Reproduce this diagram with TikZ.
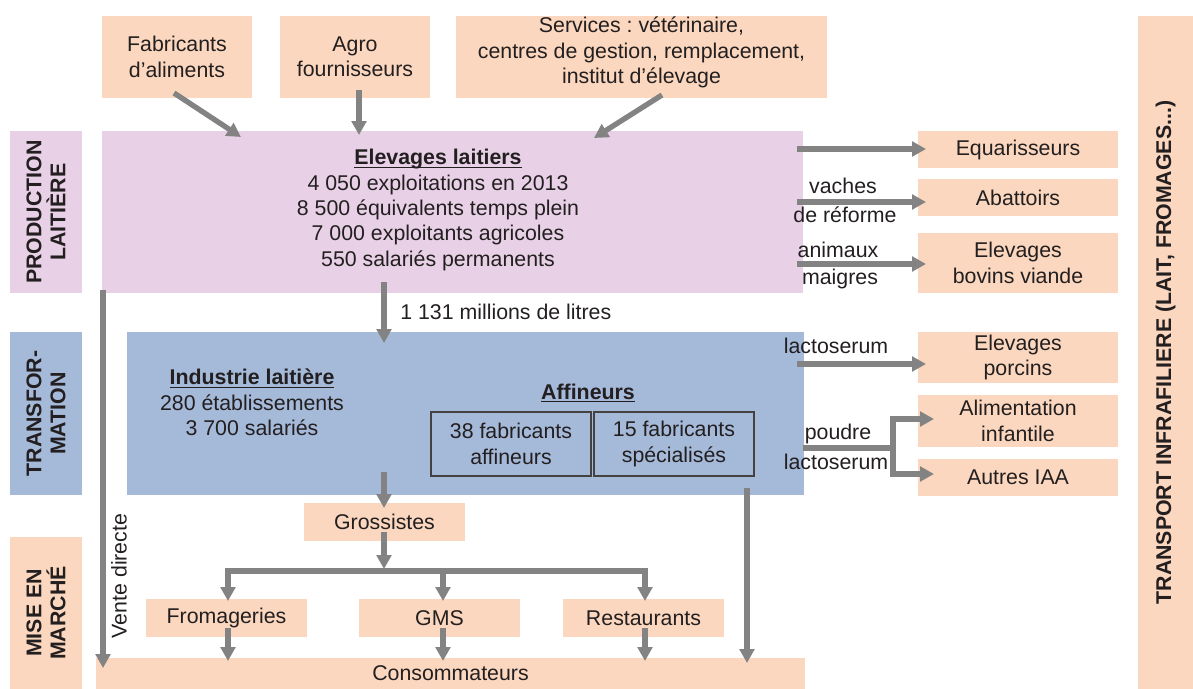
\documentclass[tikz,border=0pt]{standalone}
\usepackage{fontspec}
\setmainfont{Liberation Sans}
\usetikzlibrary{arrows.meta,calc}
\definecolor{peach}{HTML}{FAD7BE}
\definecolor{lav}{HTML}{E8D1E6}
\definecolor{bluebox}{HTML}{A5B9D9}
\definecolor{arrgray}{HTML}{838383}
\definecolor{txt}{HTML}{231F20}
\newcommand\myul[1]{\setbox0\hbox{#1}\rlap{\rule[-2.4pt]{\wd0}{0.9pt}}\box0}
\frenchspacing
\begin{document}
\begin{tikzpicture}[x=0.75pt,y=-0.75pt,
  font=\fontsize{16}{19}\selectfont, text=txt,
  box/.style={fill=peach, inner sep=0pt, align=center},
  lbl/.style={inner sep=0pt, align=center},
  side/.style={inner sep=0pt, align=center, rotate=90, font=\fontsize{16}{18}\selectfont\bfseries},
  inbox/.style={draw=txt!85, line width=0.9pt, inner sep=0pt, align=center},
  arr/.style={draw=arrgray, line width=4pt, -{Triangle[length=10.5pt,width=11pt]}},
  plain/.style={draw=arrgray, line width=4pt}]
\useasboundingbox (0,0) rectangle (1193,689);

% side labels
\node[side, fill=lav, minimum width=121.5pt, minimum height=54pt] (lprod) at (46,212) {PRODUCTION\\LAITIÈRE};
\node[side, fill=bluebox, minimum width=122.25pt, minimum height=54pt] (ltrans) at (46,413.5) {TRANSFOR-\\MATION};
\node[side, fill=peach, minimum width=114pt, minimum height=54pt] (lmise) at (46,613) {MISE EN\\MARCHÉ};
\node[side, fill=peach, minimum width=504.75pt, minimum height=41.25pt] (transp) at (1165.5,352.5) {TRANSPORT INFRAFILIERE (LAIT, FROMAGES...)};

% top boxes
\node[box, minimum width=112.5pt, minimum height=61.5pt] (fab) at (177,57) {Fabricants\\d’aliments};
\node[box, minimum width=112.5pt, minimum height=61.5pt] (agro) at (355,57) {Agro\\fournisseurs};
\node[box, minimum width=278.25pt, minimum height=61.5pt] (serv) at (641.5,57) {};
\node[lbl] (servtxt) at (641.5,52.5) {Services : vétérinaire,\\centres de gestion, remplacement,\\institut d’élevage};

% production
\node[box, fill=lav, minimum width=525.75pt, minimum height=121.5pt] (prod) at (452.5,212) {};
\node[lbl] (prodtxt) at (438,210) {\myul{\textbf{Elevages laitiers}}\\4 050 exploitations en 2013\\8 500 équivalents temps plein\\7 000 exploitants agricoles\\550 salariés permanents};

% right boxes
\node[box, minimum width=150pt, minimum height=27.75pt] (equa) at (1018,149.5) {Equarisseurs};
\node[box, minimum width=150pt, minimum height=27.75pt] (abat) at (1018,197.5) {Abattoirs};
\node[box, minimum width=150pt, minimum height=45pt] (bov) at (1018,263) {Elevages\\bovins viande};
\node[box, minimum width=150pt, minimum height=38.25pt] (porc) at (1018,357.5) {Elevages\\porcins};
\node[box, minimum width=150pt, minimum height=39pt] (alim) at (1018,421) {Alimentation\\infantile};
\node[box, minimum width=150pt, minimum height=27.75pt] (iaa) at (1018,477.5) {Autres IAA};

% transformation
\node[box, fill=bluebox, minimum width=507.75pt, minimum height=122.25pt] (trans) at (465.5,413.5) {};
\node[lbl] (indtxt) at (252,402.5) {\myul{\textbf{Industrie laitière}}\\280 établissements\\3 700 salariés};
\node[lbl] (afftxt) at (588,393) {\myul{\textbf{Affineurs}}};
\node[inbox, minimum width=120pt, minimum height=48pt] (aff38) at (511,444) {38 fabricants\\affineurs};
\node[inbox, minimum width=120pt, minimum height=48pt] (aff15) at (674,444) {15 fabricants\\spécialisés};

% market
\node[box, minimum width=120.75pt, minimum height=28.5pt] (gros) at (384.5,522) {Grossistes};
\node[box, minimum width=120.75pt, minimum height=28.5pt] (from) at (226.5,618) {Fromageries};
\node[box, minimum width=120.75pt, minimum height=28.5pt] (gms) at (439.5,618) {GMS};
\node[box, minimum width=120.75pt, minimum height=28.5pt] (rest) at (643.5,618) {Restaurants};
\node[box, minimum width=531.75pt, minimum height=23.25pt] (cons) at (450.5,673.5) {Consommateurs};

% labels
\node[lbl] (l1) at (843,186) {vaches};
\node[lbl] (l2) at (845,215) {de réforme};
\node[lbl] (l3) at (838,250) {animaux};
\node[lbl] (l4) at (840,279) {maigres};
\node[lbl] (l5) at (836,346) {lactoserum};
\node[lbl] (l6) at (838,434) {poudre};
\node[lbl] (l7) at (836,462) {lactoserum};
\node[lbl, anchor=west] (l8) at (400,312) {1 131 millions de litres};
\node[lbl, rotate=90] (l9) at (119,576) {Vente directe};

% coordinates
\coordinate (fabS) at (174,93);   \coordinate (fabE) at (241,137);
\coordinate (agroS) at (359,90);  \coordinate (agroE) at (359,135);
\coordinate (servS) at (662,95);  \coordinate (servE) at (594,138);
\coordinate (pE1) at (797,149);   \coordinate (tE1) at (926,149);
\coordinate (pE2) at (797,202);   \coordinate (tE2) at (926,202);
\coordinate (pE3) at (797,264);   \coordinate (tE3) at (926,264);
\coordinate (pE4) at (797,364);   \coordinate (tE4) at (926,364);
\coordinate (pdS) at (803,448);   \coordinate (pdJ) at (893,448);
\coordinate (tAlim) at (934,419); \coordinate (tIaa) at (934,474);
\coordinate (vdS) at (103,290);   \coordinate (vdE) at (103,668);
\coordinate (litS) at (384,282);  \coordinate (litE) at (384,343);
\coordinate (trS) at (384,472);   \coordinate (grE) at (384,508);
\coordinate (grS) at (384,532);   \coordinate (busE) at (384,569);
\coordinate (busM) at (384,571);
\coordinate (frT) at (228,601);   \coordinate (gmsB) at (443,571); \coordinate (gmsT) at (443,601);
\coordinate (reT) at (645,601);
\coordinate (frS) at (228,628);   \coordinate (frE) at (228,661);
\coordinate (gmS) at (443,628);   \coordinate (gmE) at (443,661);
\coordinate (reS) at (645,628);   \coordinate (reE) at (645,661);
\coordinate (afS) at (747,488);   \coordinate (afE) at (747,663);

% arrows
\draw[arr] (fabS) -- (fabE);
\draw[arr] (agroS) -- (agroE);
\draw[arr] (servS) -- (servE);
\draw[arr] (pE1) -- (tE1);
\draw[arr] (pE2) -- (tE2);
\draw[arr] (pE3) -- (tE3);
\draw[arr] (pE4) -- (tE4);
\draw[plain] (pdS) -- (pdJ);
\draw[arr] (pdJ) |- (tAlim);
\draw[arr] (pdJ) |- (tIaa);
\draw[arr] (vdS) -- (vdE);
\draw[arr] (litS) -- (litE);
\draw[arr] (trS) -- (grE);
\draw[arr] (grS) -- (busE);
\draw[arr] (busM) -| (frT);
\draw[arr] (busM) -| (reT);
\draw[arr] (gmsB) -- (gmsT);
\draw[arr] (frS) -- (frE);
\draw[arr] (gmS) -- (gmE);
\draw[arr] (reS) -- (reE);
\draw[arr] (afS) -- (afE);
\end{tikzpicture}
\end{document}
